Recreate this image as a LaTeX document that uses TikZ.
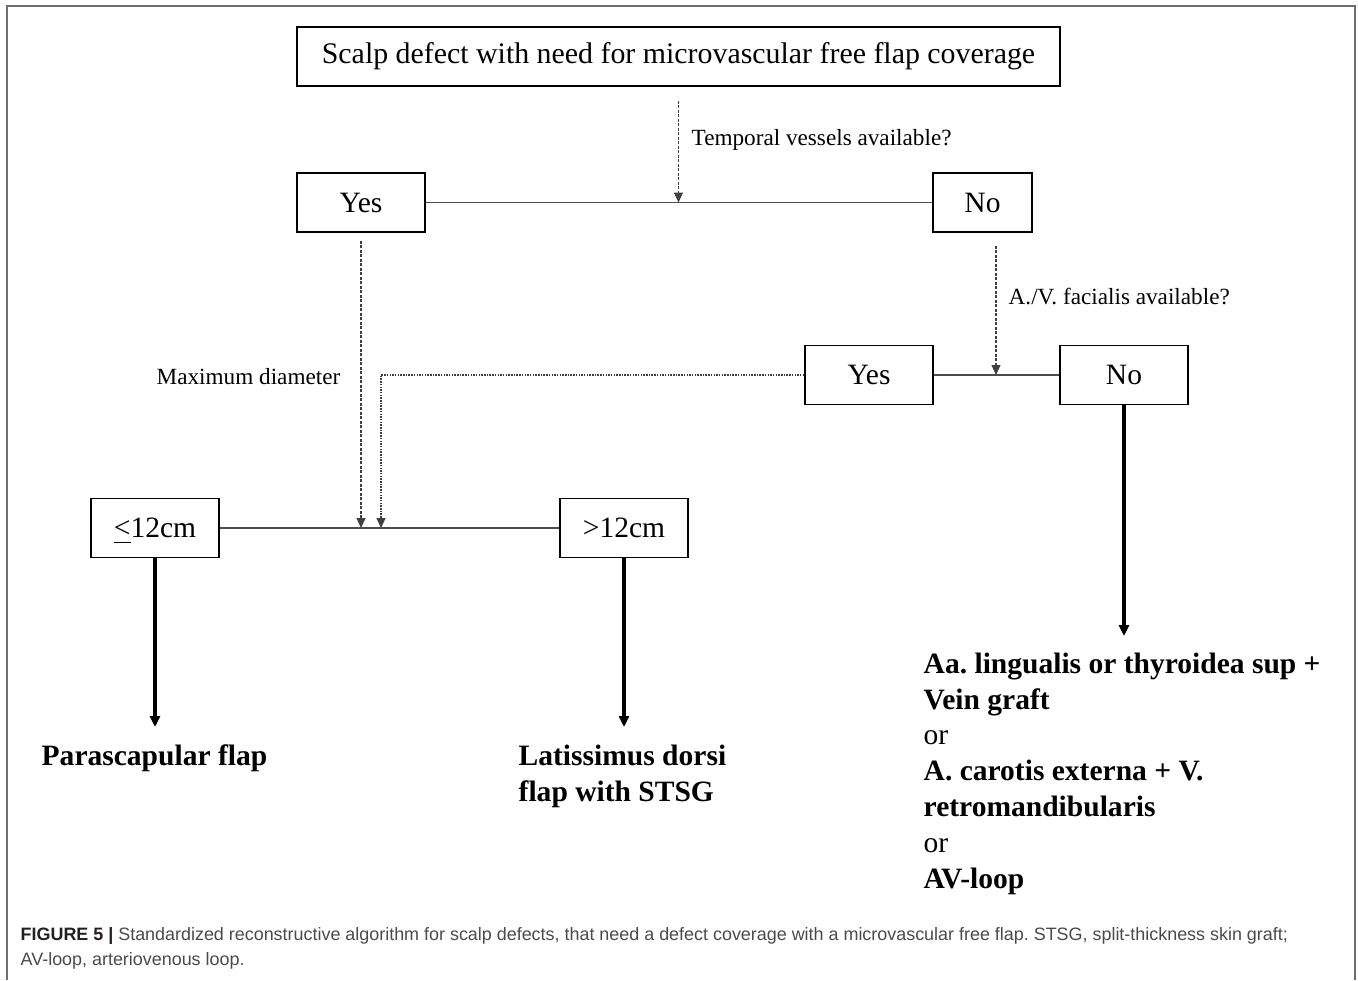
\documentclass[tikz,border=0pt]{standalone}
\usepackage{fontspec}
\setmainfont{Liberation Serif}
\newfontfamily\capfont{Liberation Sans}
\usetikzlibrary{arrows.meta}

\definecolor{framegray}{HTML}{6E6E6E}
\definecolor{captext}{HTML}{4A4A4A}
\definecolor{capdark}{HTML}{231F20}

\begin{document}
\begin{tikzpicture}[x=0.1mm, y=-0.1mm,
    box/.style={draw, line width=0.5pt, minimum width=12.8mm, minimum height=5.9mm, inner sep=0pt, font=\fontsize{8.4}{10}\selectfont},
    note/.style={inner sep=0pt, font=\fontsize{6.6}{8}\selectfont},
    result/.style={inner sep=0pt, align=left, font=\fontsize{8.4}{10.2}\selectfont\bfseries\frenchspacing},
    splitline/.style={draw=black!70, line width=0.35pt},
    ask/.style={-{Triangle[length=1mm, width=0.9mm]}, draw=black!75, line width=0.35pt, dash pattern=on 0.3mm off 0.15mm},
    lead/.style={-{Triangle[length=1.1mm, width=1mm]}, line width=0.9pt}
]
\useasboundingbox (0,0) rectangle (1358,980);
\draw[framegray, line width=0.6pt] (7,980) -- (7,6) -- (1355,6) -- (1355,980);

% question boxes
\node[box, minimum width=76.3mm, font=\fontsize{8.5}{10}\selectfont] (scalp) at (678.5,56.5) {Scalp defect with need for microvascular free flap coverage};
\node[box] (yes1) at (361,202.5) {Yes};
\node[box, minimum width=9.9mm] (no1) at (982.5,202.5) {No};
\node[box] (yes2) at (869,375) {Yes};
\node[box] (no2) at (1124,375) {No};
\node[box] (small) at (155,528) {\smash{\underline{<}}12cm};
\node[box] (big) at (624,528) {>12cm};

% labels
\node[note, anchor=west] (temporal) at (691,140) {Temporal vessels available?};
\node[note, anchor=west] (facialis) at (1008,296) {A./V. facialis available?};
\node[note, anchor=east] (diameter) at (341,377) {Maximum diameter};

% outcomes
\node[result, anchor=north west] (para) at (41,744) {Parascapular flap};
\node[result, anchor=north west] (lat) at (518,744) {Latissimus dorsi\\flap with STSG};
\node[result, anchor=north west] (alt) at (923,652) {Aa. lingualis or thyroidea sup +\\Vein graft\\\textmd{or}\\A. carotis externa + V.\\retromandibularis\\\textmd{or}\\AV-loop};

% splits
\draw[splitline] (yes1) -- (no1);
\draw[splitline] (yes2) -- (no2);
\draw[splitline] (small) -- (big);

% questions
\draw[ask, shorten <=1.4mm] (scalp.south) -- (scalp.south |- yes1.east);
\draw[ask, shorten <=1.3mm] ([xshift=1.35mm]no1.south) -- ([xshift=1.35mm]no1.south |- yes2.east);
\draw[ask, shorten <=0.8mm] (yes1.south) -- (yes1.south |- small.east);
\draw[ask, dash pattern=on 0.15mm off 0.12mm] (yes2.west) -| ([xshift=2mm]yes1.south |- small.east);

% decisions
\draw[lead, shorten >=1.7mm] (small.south) -- (small.south |- para.north);
\draw[lead, shorten >=1.7mm] (big.south) -- (big.south |- lat.north);
\draw[lead, shorten >=1.6mm] (no2.south) -- (no2.south |- alt.north);

% caption
\node[anchor=base west, inner sep=0pt, align=left, text=captext, font=\capfont\fontsize{5.1}{7.1}\selectfont\frenchspacing] (caption) at (20,965)
  {\textbf{\color{capdark}FIGURE 5 |} Standardized reconstructive algorithm for scalp defects, that need a defect coverage with a microvascular free flap. STSG, split-thickness skin graft;\\AV-loop, arteriovenous loop.};
\end{tikzpicture}
\end{document}
